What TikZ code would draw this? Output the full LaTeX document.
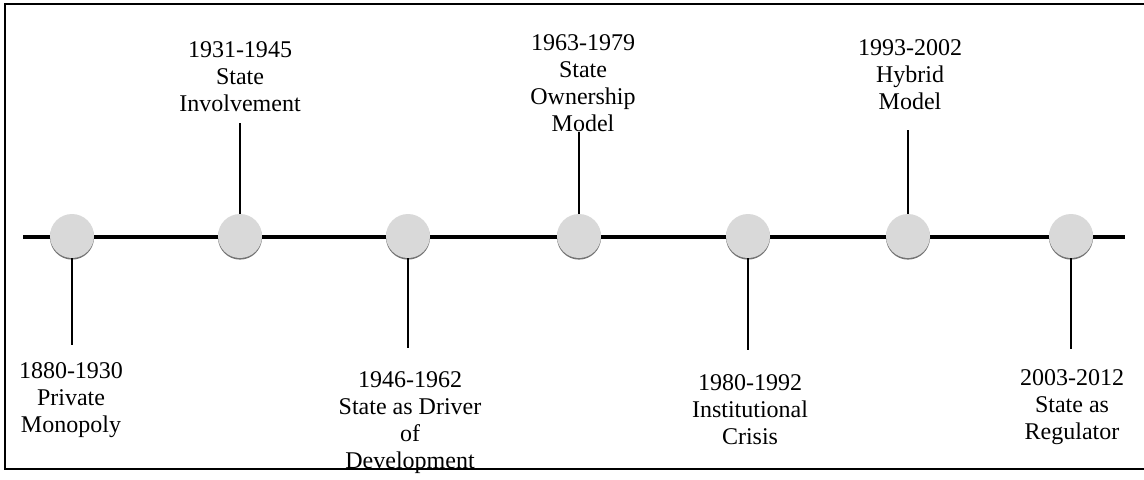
\documentclass[tikz,border=0pt]{standalone}
\usepackage{fontspec}
\setmainfont{Liberation Serif}
\begin{document}
\begin{tikzpicture}[x=0.5pt,y=-0.5pt,
  dot/.style={circle, minimum size=22pt, inner sep=0pt, fill=black!15,
    preaction={fill=black!55, transform canvas={yshift=-0.8pt}}},
  lbl/.style={align=center, anchor=north, inner sep=0pt, font=\fontsize{12}{13.5}\selectfont},
  axis/.style={line width=2pt},
  stem/.style={line width=1pt},
  frame/.style={line width=1.15pt}]
\useasboundingbox (0,0) rectangle (1144,479);
\draw[frame] (1146,4) -- (5,4) -- (5,469) -- (1146,469);
% timeline
\coordinate (tl) at (23,237);
\coordinate (tr) at (1125,237);
\draw[axis] (tl) -- (tr);
% stem ends
\coordinate (e1) at (72,345);
\coordinate (e2) at (240,123);
\coordinate (e3) at (408,348);
\coordinate (e4) at (579,132);
\coordinate (e5) at (748,350);
\coordinate (e6) at (908,130);
\coordinate (e7) at (1071,349);
% circles
\node[dot] (c1) at (72,236) {};
\node[dot] (c2) at (240,236) {};
\node[dot] (c3) at (408,236) {};
\node[dot] (c4) at (579,236) {};
\node[dot] (c5) at (748,236) {};
\node[dot] (c6) at (908,236) {};
\node[dot] (c7) at (1071,236) {};
% stems
\draw[stem] (c1.south) -- (e1);
\draw[stem] (c2.north) -- (e2);
\draw[stem] (c3.south) -- (e3);
\draw[stem] (c4.north) -- (e4);
\draw[stem] (c5.south) -- (e5);
\draw[stem] (c6.north) -- (e6);
\draw[stem] (c7.south) -- (e7);
% labels
\node[lbl] (l1) at (71,362) {1880-1930\\Private\\Monopoly};
\node[lbl] (l2) at (240,41) {1931-1945\\State\\Involvement};
\node[lbl] (l3) at (410,371) {1946-1962\\State as Driver\\of\\Development};
\node[lbl] (l4) at (583,34) {1963-1979\\State\\Ownership\\Model};
\node[lbl] (l5) at (750,374) {1980-1992\\Institutional\\Crisis};
\node[lbl] (l6) at (910,39) {1993-2002\\Hybrid\\Model};
\node[lbl] (l7) at (1072,369) {2003-2012\\State as\\Regulator};
\end{tikzpicture}
\end{document}
